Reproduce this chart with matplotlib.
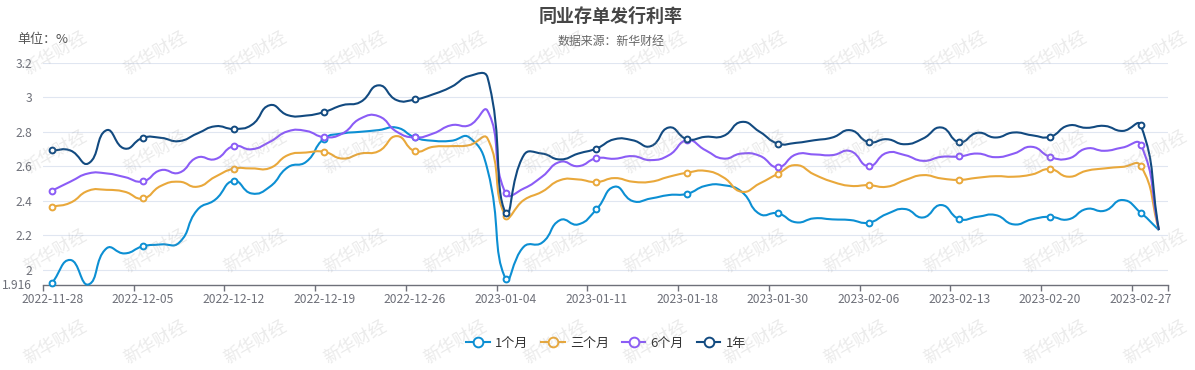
import numpy as np
import matplotlib
matplotlib.use('Agg')
import matplotlib.pyplot as plt
from matplotlib.path import Path
from matplotlib.patches import PathPatch
from matplotlib.lines import Line2D

plt.rcParams['font.family'] = ['Noto Sans CJK SC', 'DejaVu Sans']

# 横轴每 5 个交易日一个标签
tick_labels = ['2022-11-28', '2022-12-05', '2022-12-12', '2022-12-19', '2022-12-26',
               '2023-01-04', '2023-01-11', '2023-01-18', '2023-01-30', '2023-02-06',
               '2023-02-13', '2023-02-20', '2023-02-27']

one_month = [1.925, 2.058, 1.916, 2.125, 2.096, 2.137, 2.148, 2.158, 2.347, 2.408,
             2.516, 2.443, 2.482, 2.595, 2.626, 2.761, 2.790, 2.800, 2.810, 2.824,
             2.767, 2.748, 2.748, 2.767, 2.580, 1.948, 2.135, 2.158, 2.289, 2.264,
             2.351, 2.482, 2.399, 2.414, 2.434, 2.441, 2.487, 2.491, 2.453, 2.324,
             2.328, 2.276, 2.299, 2.293, 2.289, 2.274, 2.324, 2.353, 2.304, 2.376,
             2.295, 2.308, 2.318, 2.264, 2.293, 2.308, 2.293, 2.353, 2.343, 2.405,
             2.331, 2.231]
three_month = [2.366, 2.389, 2.459, 2.464, 2.453, 2.414, 2.487, 2.511, 2.482, 2.540,
               2.586, 2.588, 2.590, 2.665, 2.680, 2.684, 2.645, 2.674, 2.688, 2.775,
               2.688, 2.713, 2.717, 2.723, 2.761, 2.312, 2.405, 2.453, 2.520, 2.524,
               2.509, 2.532, 2.511, 2.511, 2.540, 2.563, 2.574, 2.536, 2.453, 2.501,
               2.557, 2.607, 2.553, 2.511, 2.487, 2.491, 2.482, 2.520, 2.549, 2.530,
               2.522, 2.534, 2.543, 2.540, 2.553, 2.584, 2.540, 2.574, 2.588, 2.597,
               2.603, 2.231]
six_month = [2.459, 2.511, 2.559, 2.559, 2.538, 2.513, 2.578, 2.563, 2.651, 2.642,
             2.717, 2.699, 2.742, 2.803, 2.805, 2.769, 2.790, 2.877, 2.890, 2.800,
             2.767, 2.790, 2.838, 2.838, 2.921, 2.443, 2.472, 2.540, 2.626, 2.601,
             2.647, 2.644, 2.659, 2.636, 2.665, 2.751, 2.694, 2.645, 2.674, 2.661,
             2.595, 2.669, 2.669, 2.665, 2.688, 2.601, 2.678, 2.665, 2.632, 2.655,
             2.657, 2.674, 2.653, 2.674, 2.713, 2.655, 2.645, 2.703, 2.690, 2.709,
             2.726, 2.231]
one_year = [2.692, 2.692, 2.617, 2.809, 2.703, 2.765, 2.765, 2.746, 2.790, 2.832,
            2.817, 2.840, 2.954, 2.896, 2.894, 2.915, 2.954, 2.973, 3.069, 2.983,
            2.987, 3.017, 3.060, 3.123, 3.114, 2.328, 2.665, 2.674, 2.640, 2.674,
            2.703, 2.757, 2.751, 2.717, 2.825, 2.757, 2.771, 2.776, 2.857, 2.800,
            2.732, 2.736, 2.751, 2.767, 2.809, 2.740, 2.757, 2.728, 2.761, 2.825,
            2.740, 2.794, 2.767, 2.796, 2.780, 2.771, 2.836, 2.823, 2.834, 2.805,
            2.838, 2.231]

series_names = ['1个月', '三个月', '6个月', '1年']
series_vals = [one_month, three_month, six_month, one_year]
colors = ['#0c8fd3', '#e9a83b', '#8b5cf6', '#124a80']

y_min, y_max = 1.916, 3.2
y_ticks = [1.916, 2, 2.2, 2.4, 2.6, 2.8, 3, 3.2]
y_labels = ['1.916', '2', '2.2', '2.4', '2.6', '2.8', '3', '3.2']

W, H = 1195, 370
fig = plt.figure(figsize=(W / 100, H / 100), dpi=100)
ax = fig.add_axes([43 / W, 1 - 284.5 / H, (1168 - 43) / W, (284.5 - 62.7) / H])

n = len(one_month)
x = np.arange(n)
ax.set_xlim(-0.5, n - 0.5)
ax.set_ylim(y_min, y_max)

gray = '#6e7079'
for s in ['top', 'right', 'left']:
    ax.spines[s].set_visible(False)
ax.spines['bottom'].set_color(gray)
ax.spines['bottom'].set_linewidth(1)

ax.set_yticks(y_ticks)
ax.set_yticklabels(y_labels)
ax.tick_params(axis='y', length=0, pad=8, labelcolor=gray, labelsize=8.7)
for v in y_ticks[1:]:
    ax.axhline(v, color='#e0e6f1', lw=0.8, zorder=0)

# 刻度在类目边界，标签在类目中心
lab_idx = np.arange(0, n - 1, 5)
ax.set_xticks(lab_idx)
ax.set_xticklabels(tick_labels)
ax.tick_params(axis='x', length=0, pad=6, labelcolor=gray, labelsize=8.7)
bounds = list(lab_idx - 0.5) + [n - 0.5]
ax.set_xticks(bounds, minor=True)
ax.tick_params(axis='x', which='minor', length=4, width=1, color=gray)


def smooth_path(xs, ys, smooth=0.5):
    # echarts 风格的平滑曲线，在像素坐标下求控制点
    pts = ax.transData.transform(np.column_stack([xs, ys]))
    m = len(pts)
    cin, cout = [], []
    for i in range(m):
        p = pts[i]
        prev = pts[i - 1] if i > 0 else p
        nxt = pts[i + 1] if i < m - 1 else p
        v = (nxt - prev) * smooth
        d0 = np.hypot(*(p - prev))
        d1 = np.hypot(*(nxt - p))
        r = d1 / (d0 + d1) if d0 + d1 > 0 else 0.5
        cout.append(p + v * r)
        cin.append(p - v * (1 - r))
    verts = [pts[0]]
    codes = [Path.MOVETO]
    for i in range(1, m):
        verts += [cout[i - 1], cin[i], pts[i]]
        codes += [Path.CURVE4] * 3
    verts = ax.transData.inverted().transform(np.array(verts))
    return Path(verts, codes)


for vals, c in zip(series_vals, colors):
    patch = PathPatch(smooth_path(x, vals), fill=False, edgecolor=c, lw=1.5,
                      zorder=3, clip_on=False, joinstyle='round')
    ax.add_patch(patch)
    ax.plot(x[lab_idx], np.array(vals)[lab_idx], 'o', ms=4.2, mfc='white',
            mec=c, mew=1.4, zorder=4, clip_on=False)

fig.text(611 / W, 1 - 16 / H, '同业存单发行利率', ha='center', va='center',
         fontsize=13, fontweight='bold', color='#464646')
fig.text(611 / W, 1 - 41 / H, '数据来源：新华财经', ha='center', va='center',
         fontsize=8.6, color='#666666')
fig.text(17 / W, 1 - 40 / H, '单位：%', ha='left', va='center',
         fontsize=9.4, color='#555555')

handles = [Line2D([], [], color=c, lw=1.5, marker='o', ms=7, mfc='white', mew=1.4)
           for c in colors]
fig.legend(handles, series_names, loc='center', bbox_to_anchor=(606 / W, 1 - 343 / H),
           ncol=4, frameon=False, fontsize=9.4, handlelength=1.8, handletextpad=0.4,
           columnspacing=1.0, labelcolor='#333333')

# 水印
for row_y in [53, 152, 251, 342]:
    for col_x in range(55, 1160, 100):
        fig.text(col_x / W, 1 - row_y / H, '新华财经', ha='center', va='center',
                 rotation=30, fontsize=12.5, color='#9a9a9a', alpha=0.2, zorder=10)

fig.savefig('out.png', dpi=100)
